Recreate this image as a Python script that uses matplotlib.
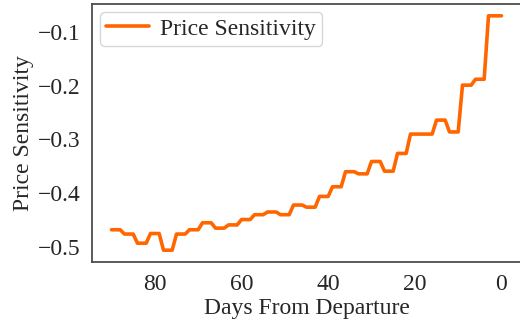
import numpy as np
import matplotlib
matplotlib.use('Agg')
import matplotlib.pyplot as plt
import seaborn as sns

# days before departure, one value per day
days = list(range(90, -1, -1))
sensitivity = [
    -0.468, -0.468, -0.468,  # 90-88
    -0.476, -0.476, -0.476,  # 87-85
    -0.493, -0.493, -0.493,  # 84-82
    -0.475, -0.475, -0.475,  # 81-79
    -0.506, -0.506, -0.506,  # 78-76
    -0.476, -0.476, -0.476,  # 75-73
    -0.468, -0.468, -0.468,  # 72-70
    -0.455, -0.455, -0.455,  # 69-67
    -0.465, -0.465, -0.465,  # 66-64
    -0.459, -0.459, -0.459,  # 63-61
    -0.449, -0.449, -0.449,  # 60-58
    -0.440, -0.440, -0.440,  # 57-55
    -0.435, -0.435, -0.435,  # 54-52
    -0.440, -0.440, -0.440,  # 51-49
    -0.422, -0.422, -0.422,  # 48-46
    -0.426, -0.426, -0.426,  # 45-43
    -0.406, -0.406, -0.406,  # 42-40
    -0.388, -0.388, -0.388,  # 39-37
    -0.360, -0.360, -0.360,  # 36-34
    -0.364, -0.364, -0.364,  # 33-31
    -0.341, -0.341, -0.341,  # 30-28
    -0.359, -0.359, -0.359,  # 27-25
    -0.326, -0.326, -0.326,  # 24-22
    -0.290, -0.290, -0.290,  # 21-19
    -0.290, -0.290, -0.290,  # 18-16
    -0.264, -0.264, -0.264,  # 15-13
    -0.286, -0.286, -0.286,  # 12-10
    -0.199, -0.199, -0.199,  # 9-7
    -0.188, -0.188, -0.188,  # 6-4
    -0.070, -0.070, -0.070,  # 3-1
    -0.070,                  # 0
]

sns.set_style('white')
plt.rcParams['font.family'] = ['Liberation Serif', 'DejaVu Serif']

fig = plt.figure(figsize=(5.2, 3.22), dpi=100)
ax = fig.add_axes([92/520, 1 - 262/322, (521 - 92)/520, (262 - 4)/322])
ax.plot(days, sensitivity, color='#ff6600', lw=2.6, label='Price Sensitivity')
ax.set_xlim(94.5, -4.5)
ax.set_ylim(-0.528, -0.048)
ax.set_xticks([80, 60, 40, 20, 0])
ax.set_yticks([-0.5, -0.4, -0.3, -0.2, -0.1])
ax.tick_params(labelsize=17, colors='.15', pad=5)
ax.set_xlabel('Days From Departure', fontsize=17, color='.15', labelpad=2)
ax.set_ylabel('Price Sensitivity', fontsize=17, color='.15', labelpad=2.5)
for s in ax.spines.values():
    s.set_color('.3')
    s.set_linewidth(1.3)
ax.legend(loc='upper left', fontsize=17, handlelength=1.8,
          borderaxespad=0.35, borderpad=0.25, handletextpad=0.5)
fig.savefig('out.png', dpi=100)
